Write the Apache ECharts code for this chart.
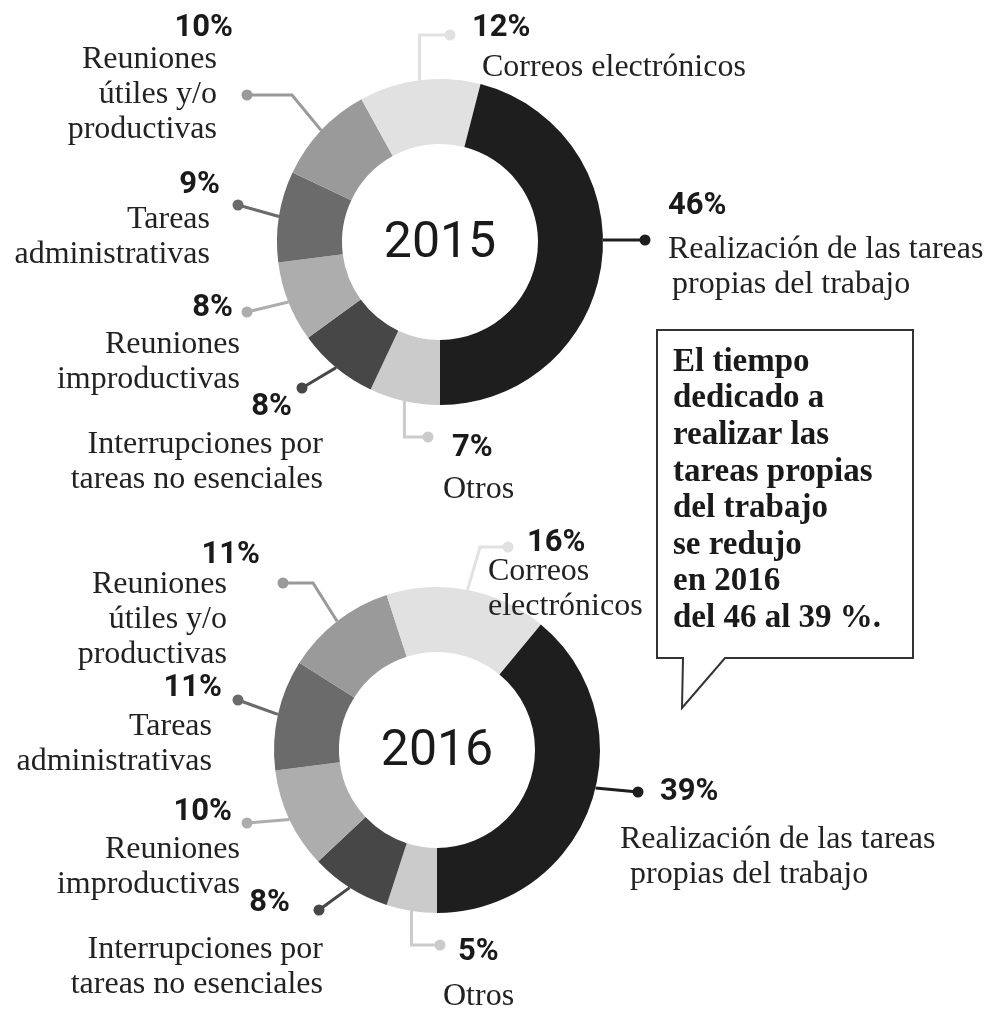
<!DOCTYPE html>
<html>
<head>
<meta charset="utf-8">
<script src="https://cdn.jsdelivr.net/npm/echarts@6/dist/echarts.min.js"></script>
<style>
  html, body { margin: 0; padding: 0; background: #fff; }
  #main { width: 995px; height: 1012px; }
</style>
</head>
<body>
<div id="main"></div>
<script>
// slices go clockwise starting at 6 o'clock
var categories = [
  'Otros',
  'Interrupciones por\ntareas no esenciales',
  'Reuniones\nimproductivas',
  'Tareas\nadministrativas',
  'Reuniones\nútiles y/o\nproductivas',
  'Correos\nelectrónicos',
  'Realización de las tareas\npropias del trabajo'
];
var values2015 = [7, 8, 8, 9, 10, 12, 46];
var values2016 = [5, 8, 10, 11, 11, 16, 39];
var years = ['2015', '2016'];
var sliceColors = ['#cbcbcb', '#474747', '#adadad', '#6b6b6b', '#9a9a9a', '#e1e1e1', '#1e1e1e'];
var calloutLines = ['El tiempo', 'dedicado a', 'realizar las', 'tareas propias', 'del trabajo', 'se redujo', 'en 2016', 'del 46 al 39 %.'];

// layout only (positions of pies and annotation labels)
var centers = [[440, 242], [437, 750]];
var R_IN = 98, R_OUT = 163;
var layouts = [
  [
    {align: 'left',  x: 443, pctY: 448, gap: 42, pctOff: 9,  elbow: [null, 437], dot: [428, 437]},
    {align: 'right', x: 323, pctY: 407, gap: 38, pctOff: 31, dot: [302, 388]},
    {align: 'right', x: 240, pctY: 308, gap: 37, pctOff: 7,  dot: [247, 312]},
    {align: 'right', x: 220, pctY: 185, gap: 35, catOff: 10, dot: [238, 205]},
    {align: 'right', x: 233, pctY: 28,  gap: 32, catOff: 16, elbow: [292, 95], dot: [247, 95]},
    {align: 'left',  x: 472, pctY: 28,  gap: 40, catOff: 10, oneLine: true, elbow: [null, 35], dot: [450, 35]},
    {align: 'left',  x: 668, pctY: 206, gap: 44, restOff: 4, startY: 240, dot: [645, 240]}
  ],
  [
    {align: 'left',  x: 443, pctY: 952, gap: 45, pctOff: 15, elbow: [null, 945], dot: [440, 945]},
    {align: 'right', x: 323, pctY: 903, gap: 47, pctOff: 33, dot: [319, 910]},
    {align: 'right', x: 240, pctY: 812, gap: 38, pctOff: 8,  dot: [247, 823]},
    {align: 'right', x: 222, pctY: 688, gap: 39, catOff: 10, dot: [238, 700]},
    {align: 'right', x: 260, pctY: 555, gap: 30, catOff: 33, elbow: [313, 583], dot: [283, 583]},
    {align: 'left',  x: 488, pctY: 543, gap: 29, pctOff: 39, elbow: [480, 547], dot: [508, 547]},
    {align: 'left',  x: 620, pctY: 792, gap: 48, pctOff: 40, restOff: 10, startY: 788, dot: [638, 792]}
  ]
];

function pad(off, align) {
  off = off || 0;
  return align === 'right' ? [0, off, 0, 0] : [0, 0, 0, off];
}

function buildRich(lay) {
  var rich = {};
  lay.forEach(function (L, i) {
    rich['p' + i] = {
      fontFamily: 'Roboto', fontWeight: 'bold', fontSize: 31, color: '#1a1a1a',
      lineHeight: 2 * L.gap - 35, align: L.align, padding: pad(L.pctOff, L.align)
    };
    rich['c' + i] = {
      fontFamily: '"Liberation Serif", serif', fontSize: 32, color: '#222',
      lineHeight: 35, align: L.align, padding: pad(L.catOff, L.align)
    };
    rich['d' + i] = {
      fontFamily: '"Liberation Serif", serif', fontSize: 32, color: '#222',
      lineHeight: 35, align: L.align,
      padding: pad(L.restOff != null ? L.restOff : L.catOff, L.align)
    };
  });
  return rich;
}

function midPoint(si, di, vals) {
  var total = 0, before = 0;
  vals.forEach(function (v, k) { total += v; if (k < di) before += v; });
  var a = (before + vals[di] / 2) / total * Math.PI * 2; // clockwise from bottom
  var c = centers[si];
  return [c[0] - R_OUT * Math.sin(a), c[1] + R_OUT * Math.cos(a)];
}

var allValues = [values2015, values2016];

var series = allValues.map(function (vals, si) {
  return {
    type: 'pie',
    center: centers[si],
    radius: [R_IN, R_OUT],
    startAngle: -90,
    clockwise: true,
    silent: true,
    avoidLabelOverlap: false,
    itemStyle: {borderWidth: 0},
    data: vals.map(function (v, i) {
      return {value: v, name: categories[i], itemStyle: {color: sliceColors[i]}};
    }),
    label: {
      show: true,
      position: 'outside',
      formatter: function (p) {
        var L = layouts[si][p.dataIndex];
        var i = p.dataIndex;
        var name = L.oneLine ? p.name.replace(/\n/g, ' ') : p.name;
        var s = '{p' + i + '|' + p.value + '%}';
        name.split('\n').forEach(function (ln, k) {
          s += '\n{' + (k === 0 ? 'c' : 'd') + i + '|' + ln + '}';
        });
        return s;
      },
      rich: buildRich(layouts[si])
    },
    labelLine: {show: true, smooth: false, length: 10, length2: 10, lineStyle: {width: 3}},
    labelLayout: function (params) {
      var L = layouts[si][params.dataIndex];
      var top = L.pctY - (2 * L.gap - 35) / 2;
      var start;
      if (L.startY != null) {
        var c = centers[si], dy = L.startY - c[1];
        start = [c[0] + Math.sqrt(R_OUT * R_OUT - dy * dy), L.startY];
      } else if (params.labelLinePoints && params.labelLinePoints[0]) {
        start = params.labelLinePoints[0].slice();
      } else {
        start = midPoint(si, params.dataIndex, vals);
      }
      var elbow = L.elbow
        ? [L.elbow[0] == null ? start[0] : L.elbow[0], L.elbow[1]]
        : [(start[0] + L.dot[0]) / 2, (start[1] + L.dot[1]) / 2];
      return {
        x: L.x, y: top, align: L.align, verticalAlign: 'top',
        labelLinePoints: [start, elbow, L.dot.slice()]
      };
    }
  };
});

var graphics = [];
layouts.forEach(function (lay, si) {
  lay.forEach(function (L, i) {
    graphics.push({
      type: 'circle', shape: {cx: L.dot[0], cy: L.dot[1], r: 5.5},
      style: {fill: sliceColors[i]}, z: 10, silent: true
    });
  });
  graphics.push({
    type: 'text', x: centers[si][0], y: centers[si][1] + 2, z: 10, silent: true,
    style: {text: years[si], font: '400 50px Roboto', fill: '#1a1a1a', align: 'center', verticalAlign: 'middle'}
  });
});
// speech-bubble note
graphics.push({
  type: 'polygon', z: 5, silent: true,
  shape: {points: [[657, 330], [913, 330], [913, 658], [725, 658], [682, 708], [683, 658], [657, 658]]},
  style: {fill: '#fff', stroke: '#333', lineWidth: 2}
});
graphics.push({
  type: 'text', x: 673, y: 344, z: 6, silent: true,
  style: {
    text: calloutLines.join('\n'), font: 'bold 33px "Liberation Serif"',
    lineHeight: 36.6, fill: '#1a1a1a', verticalAlign: 'top'
  }
});

var chart = echarts.init(document.getElementById('main'));
chart.setOption({
  backgroundColor: '#fff',
  animation: false,
  series: series,
  graphic: graphics
});
</script>
</body>
</html>
